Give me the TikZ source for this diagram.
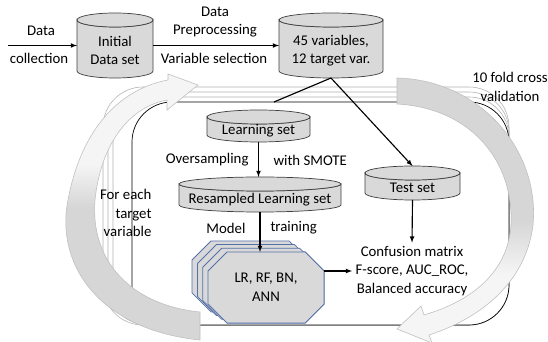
\documentclass[tikz,border=0pt]{standalone}
\usepackage{fontspec}
\setmainfont{Carlito}
\usetikzlibrary{calc}

\definecolor{modeledge}{RGB}{84,112,168}

% fades for the two loop arrows (dark tail, light head)
\pgfdeclareverticalshading{foldfade}{100bp}{color(0bp)=(black!4); color(38bp)=(black!4); color(48bp)=(black!16); color(100bp)=(black!16)}
\pgfdeclareverticalshading{targetfade}{100bp}{color(0bp)=(black!16); color(50bp)=(black!16); color(58bp)=(black!4); color(100bp)=(black!4)}

\tikzset{
  cylface/.style={draw=black!75, line width=0.25mm, fill=black!15},
  cylnode/.style={inner sep=0pt, outer sep=0pt},
  modelface/.style={draw=modeledge, line width=0.25mm, fill=black!15},
  conn/.style={line width=0.4mm, -latex},
  backbox/.style={draw=black!30, line width=0.2mm, fill=white, rounded corners=40pt},
  loop/.style={draw=black!25, line width=0.2mm}
}

% cylinder: (name)(left:right:top:bottom){text}
\def\datacyl(#1)(#2:#3:#4:#5)#6{%
  \path[cylface] (#2,#4-7) -- (#2,#5+7) arc[start angle=180, end angle=360, x radius={(#3-#2)/2}, y radius=7]
    -- (#3,#4-7) arc[start angle=0, end angle=-180, x radius={(#3-#2)/2}, y radius=7] -- cycle;
  \path[cylface] ({(#2+#3)/2},#4-7) ellipse[x radius={(#3-#2)/2}, y radius=7];
  \node[cylnode, minimum width={#3-#2}, minimum height={#4-#5}] (#1) at ({(#2+#3)/2},{(#4+#5)/2}) {};
  \node[align=center] (#1-txt) at ({(#2+#3)/2},{(#4+#5)/2-5}) {#6};
}

% octagon 116 x 71 around a centre
\def\modelgon(#1){%
  \draw[modelface, shift={(#1)}] (-39,35.5) -- (39,35.5) -- (58,16.5) -- (58,-16.5) -- (39,-35.5)
    -- (-39,-35.5) -- (-58,-16.5) -- (-58,16.5) -- cycle;
}

\begin{document}
\begin{tikzpicture}[x=1pt, y=1pt, font=\fontsize{14.8}{18.5}\selectfont]
	%%%%% START %%%%%
	\useasboundingbox[fill=white] (0,0) rectangle (548,342);

	% stacked frames, one per target variable
	\foreach \k in {0,1,2}
		\draw[backbox] ({103+5*\k},{255-5*\k}) rectangle (509,17);
	\draw[backbox, draw=black, line width=0.25mm] (132,240) rectangle (509,17);

	% loop arrows
	\begin{scope}
		\clip (0,0) rectangle (548,342);
		\draw[loop, shading=targetfade] (200,2) .. controls (100,12) and (55,77) .. (68,142)
			.. controls (80,207) and (115,252) .. (168,262) -- (168,268) -- (198,257) -- (167,232) -- (167,242)
			.. controls (125,234) and (100,192) .. (95,142) .. controls (90,82) and (130,37) .. (200,30) -- cycle;
		\draw[loop, shading=foldfade] (397,264) .. controls (480,262) and (540,192) .. (533,117)
			.. controls (527,67) and (490,27) .. (429,7) -- (432,-1) -- (397,13) -- (421,36) -- (424,27)
			.. controls (475,42) and (508,72) .. (511,117) .. controls (514,182) and (470,234) .. (397,238) -- cycle;
	\end{scope}

	% data sets
	\datacyl(initial)(77:153:329:264){Initial\\Data set}
	\datacyl(vars)(279:383:329:264){45 variables,\\12 target var.}
	\datacyl(learn)(207:310:232:200){Learning set}
	\datacyl(resamp)(179:341:165:130){Resampled Learning set}
	\datacyl(test)(365:460:176:142){Test set}

	% models, one per fold
	\foreach \k in {3,2,1}
		\modelgon({266-5.3*\k},{54.5+3.7*\k})
	\modelgon(266,54.5)
	\node[cylnode, minimum width=116pt, minimum height=71pt, align=center] (model) at (266,54.5) {LR, RF, BN,\\ANN};

	\node[align=center] (conf) at (412,71) {Confusion matrix\\F-score, AUC\_ROC,\\Balanced accuracy};

	% labels
	\node (data) at (41,311) {Data};
	\node (collect) at (39,284) {collection};
	\node[align=center] (prep) at (215,320) {Data\\Preprocessing};
	\node (varsel) at (214,284) {Variable selection};
	\node[anchor=east] (overs) at (252,182) {Oversampling};
	\node[anchor=west] (smote) at (270,182) {with SMOTE};
	\node[anchor=east] (modl) at (249,114) {Model};
	\node[anchor=west] (train) at (267,114) {training};
	\node[anchor=east, align=right] (foreach) at (155,129) {For each\\target\\variable};
	\node[align=center] (folds) at (510,255) {10 fold cross\\validation};

	% connectors
	\coordinate (src) at (8,296.5);
	\coordinate (split) at (274,240);
	\draw[conn] (src) -- (initial.west);
	\draw[conn] (initial.east) -- (vars.west);
	\draw[line width=0.4mm] (vars.south) -- (split);
	\draw[conn] (vars.south) -- (test.north);
	\draw[conn] (learn.south) -- (learn.south |- resamp.north);
	\draw[conn] (resamp.south) -- (resamp.south |- model.north);
	\draw[conn] (test.south) -- (conf.north);
	\draw[conn] (model.east |- conf.west) -- (conf.west);

	%%%%% END %%%%%
\end{tikzpicture}
\end{document}
